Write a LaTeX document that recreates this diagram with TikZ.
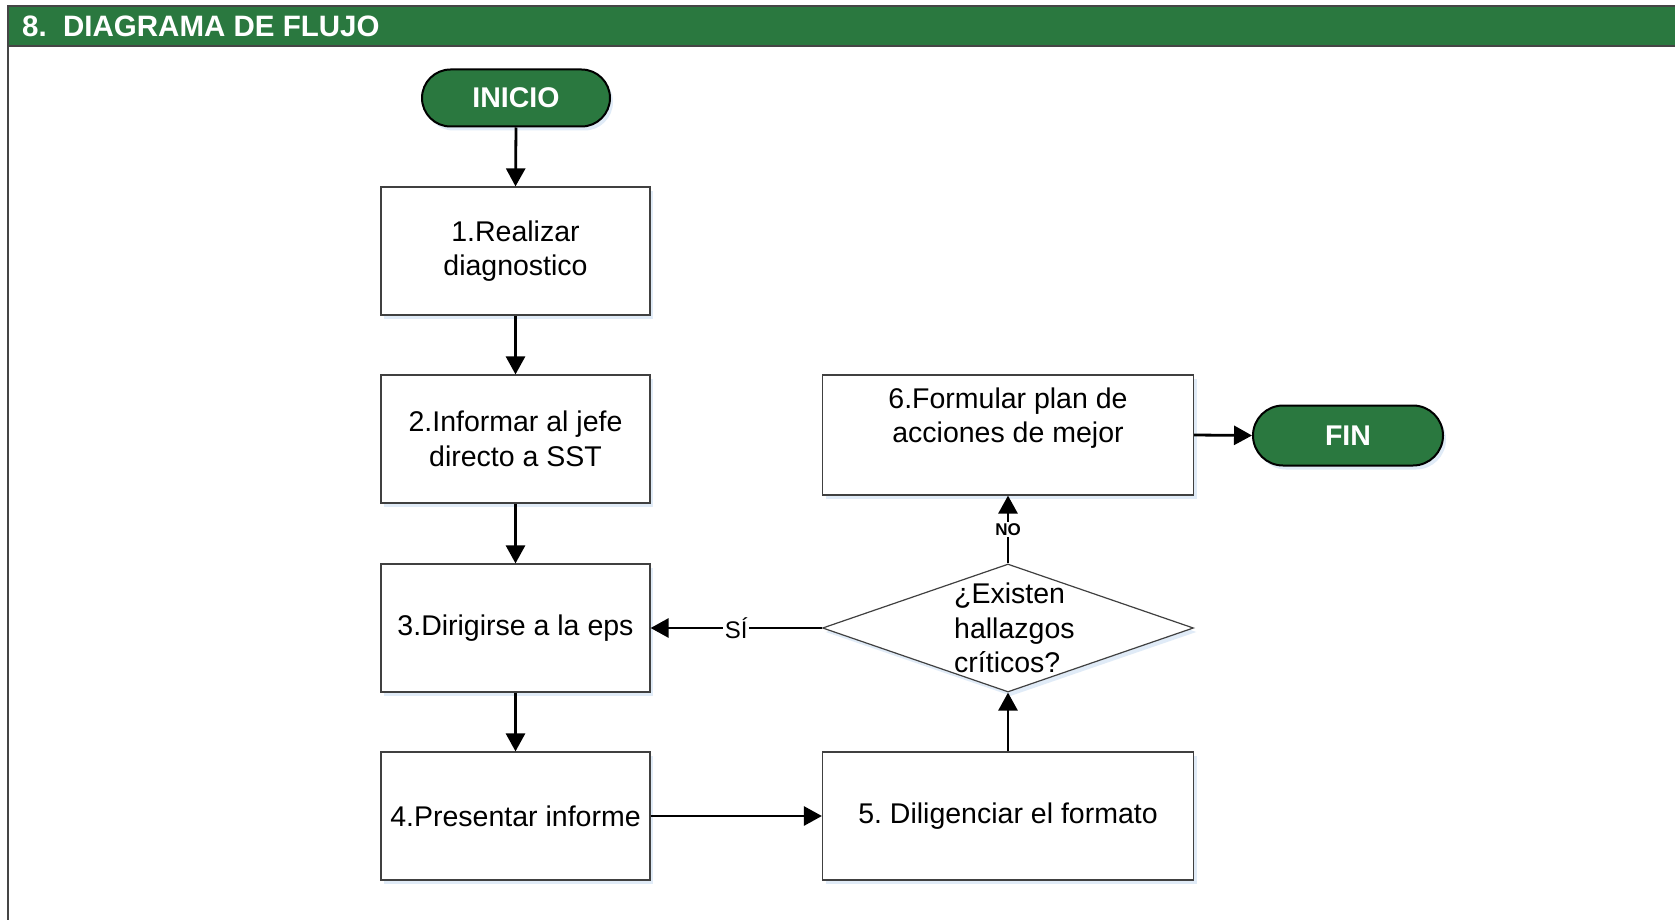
\documentclass[tikz,border=0pt]{standalone}
\usepackage{fontspec}
\setmainfont{Liberation Sans}
\frenchspacing
\usetikzlibrary{arrows.meta,shapes.geometric,shapes.misc,shadows}
\definecolor{hdrgreen}{HTML}{2A783F}
\definecolor{framegray}{HTML}{454545}
\definecolor{shadowblue}{HTML}{D3E3F4}
\begin{document}
\begin{tikzpicture}[x=1pt,y=-1pt,
  shd/.style={general shadow={fill=shadowblue, shadow xshift=3pt, shadow yshift=-4pt, opacity=0.7}},
  box/.style={shd, draw=black!75, line width=1.2pt, fill=white, minimum width=269pt, minimum height=128pt, inner sep=0pt, align=center, font=\fontsize{28.5}{34.5}\selectfont},
  wbox/.style={box, minimum width=371pt},
  term/.style={shd, rounded rectangle, draw=black, line width=2pt, fill=hdrgreen, text=white, minimum width=188pt, minimum height=57pt, inner sep=0pt, font=\bfseries\fontsize{28.5}{34}\selectfont},
  dec/.style={shd, diamond, draw=black!75, line width=1.2pt, fill=white, minimum width=371pt, minimum height=128pt, inner sep=0pt},
  txt/.style={inner sep=0pt, align=center, font=\fontsize{28.5}{34.5}\selectfont},
  arr/.style={line width=2.8pt, -{Triangle[length=18pt,width=19pt]}},
  lbl/.style={fill=white, inner sep=1.5pt}
]
\useasboundingbox (0,0) rectangle (1675,920);
\fill[white] (0,0) rectangle (1675,920);
% header
\fill[hdrgreen] (7,6) rectangle (1675,47);
\draw[framegray, line width=2pt] (7.5,6.5) -- (1675,6.5);
\draw[framegray, line width=2pt] (7.5,46.5) -- (1675,46.5);
\draw[framegray, line width=2pt] (7.5,5.5) -- (7.5,920);
\node[anchor=west, text=white, inner sep=0pt, font=\bfseries\fontsize{29.5}{34}\selectfont] (hdr) at (22,26.5) {8.\ \ DIAGRAMA DE FLUJO};
% nodes
\node[term] (ini) at (516,98) {INICIO};
\node[box] (b1) at (515.5,251) {1.Realizar\\diagnostico};
\node[box] (b2) at (515.5,439) {2.Informar al jefe\\directo a SST};
\node[box] (b3) at (515.5,628) {3.Dirigirse a la eps};
\node[box] (b4) at (515.5,816) {4.Presentar informe};
\node[wbox] (b5) at (1008,816) {5. Diligenciar el formato};
\node[wbox, minimum height=120pt] (b6) at (1008,435) {};
\node[txt] (b6t) at (1008,418) {6.Formular plan de\\acciones de mejor};
\node[dec] (dia) at (1008,628) {};
\node[txt, align=left, anchor=west] (diat) at (954,628) {¿Existen\\hallazgos\\críticos?};
\node[term, minimum width=190pt, minimum height=60pt] (fin) at (1348,435.5) {FIN};
% connectors
\draw[arr] (ini.south) -- (b1.north);
\draw[arr] (b1.south) -- (b2.north);
\draw[arr] (b2.south) -- (b3.north);
\draw[arr] (b3.south) -- (b4.north);
\draw[arr] (b4.east) -- (b5.west);
\draw[arr] (b5.north) -- (dia.south);
\draw[arr] (dia.north) -- node[lbl, font=\bfseries\fontsize{17}{20}\selectfont] (no) {NO} (b6.south);
\draw[arr] (dia.west) -- node[lbl, font=\fontsize{24}{28}\selectfont] (si) {SÍ} (b3.east);
\draw[arr] (b6.east) -- (fin.west);
\end{tikzpicture}
\end{document}
